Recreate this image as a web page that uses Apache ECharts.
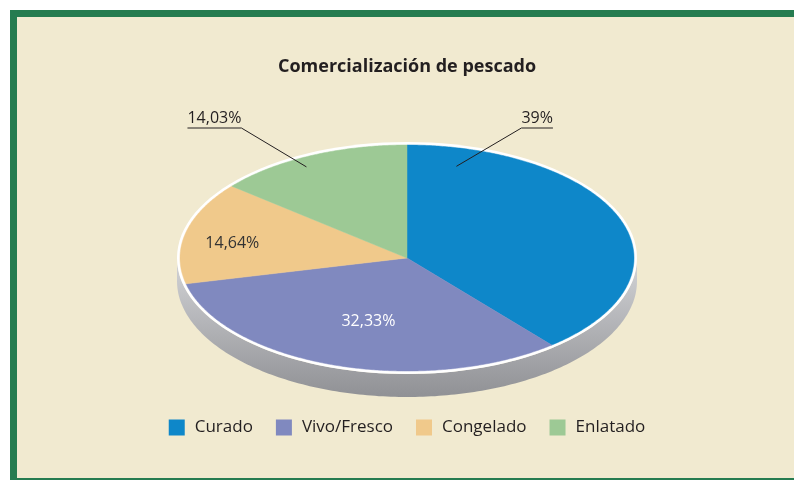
<!DOCTYPE html>
<html>
<head>
<meta charset="utf-8">
<title>Comercialización de pescado</title>
<script src="https://cdn.jsdelivr.net/npm/echarts@6/dist/echarts.min.js"></script>
<style>
  html, body { margin: 0; padding: 0; background: #fff; overflow: hidden; }
  #frame {
    position: absolute; left: 10px; top: 10px; width: 777px; height: 461px;
    background: #f1ead0;
    border-top: 7px solid #267c50; border-left: 7px solid #267c50; border-bottom: 2px solid #267c50;
  }
  #chart { position: absolute; left: 20px; top: 0; width: 774px; height: 480px; }
</style>
</head>
<body>
<div id="frame"></div>
<div id="chart"></div>
<script>
const categories = ['Curado', 'Vivo/Fresco', 'Congelado', 'Enlatado'];
const shares = [39, 32.33, 14.64, 14.03];
const shareLabels = ['39%', '32,33%', '14,64%', '14,03%'];
const colors = ['#0e87c9', '#8089bf', '#f0c98b', '#9dc995'];

const FONT = '"Open Sans", "Noto Sans", sans-serif';

// ellipse geometry of the "3d" pie
const RX = 227, RY = 113, BORDER = 3, DEPTH = 23, CY = 258;
// label placement: at = position inside slice (0..1), f = radius fraction
const labelPos = [
  { at: 0.107, f: 0.84, outside: true, dx: 65 },
  { at: 0.484, f: 0.59, color: '#fff' },
  { at: 0.43, f: 0.78, color: '#333' },
  { at: 0.43, f: 0.92, outside: true, dx: -65 },
];

const total = shares.reduce((a, b) => a + b, 0);

function startAngle(i) {
  let s = 0;
  for (let k = 0; k < i; k++) s += shares[k];
  return s / total * 360;
}

// t in degrees, clockwise from 12 o'clock
function pt(cx, t, rx, ry) {
  const r = t * Math.PI / 180;
  return [cx + rx * Math.sin(r), CY - ry * Math.cos(r)];
}

const measureCtx = document.createElement('canvas').getContext('2d');
function textWidth(s) {
  measureCtx.font = '16px ' + FONT;
  return measureCtx.measureText(s).width;
}

function renderBase(params, api) {
  const cx = api.getWidth() / 2;
  const orx = RX + BORDER, ory = RY + BORDER;
  const side = [];
  for (let t = 90; t <= 270; t += 1) side.push(pt(cx, t, orx, ory));
  for (let t = 270; t >= 90; t -= 1) {
    const q = pt(cx, t, orx, ory);
    side.push([q[0], q[1] + DEPTH]);
  }
  return {
    type: 'group',
    children: [
      {
        type: 'polygon',
        shape: { points: side },
        style: {
          fill: {
            type: 'linear', global: true, x: 0, y: CY, x2: 0, y2: CY + ory + DEPTH,
            colorStops: [{ offset: 0, color: '#d3d4d7' }, { offset: 1, color: '#909195' }],
          },
        },
      },
      { type: 'ellipse', shape: { cx: cx, cy: CY, rx: orx, ry: ory }, style: { fill: '#fff' } },
    ],
  };
}

function renderSlice(i) {
  return function (params, api) {
    const cx = api.getWidth() / 2;
    const a0 = startAngle(i);
    const a1 = a0 + api.value(0) / total * 360;
    const points = [[cx, CY]];
    for (let t = a0; t < a1; t += 0.5) points.push(pt(cx, t, RX, RY));
    points.push(pt(cx, a1, RX, RY));
    const children = [{
      type: 'polygon',
      shape: { points: points },
      style: { fill: colors[i], stroke: colors[i], lineWidth: 0.5 },
    }];
    const lp = labelPos[i];
    const ta = a0 + (a1 - a0) * lp.at;
    const p = pt(cx, ta, RX * lp.f, RY * lp.f);
    if (lp.outside) {
      const ex = p[0] + lp.dx, ey = CY - 130;
      const w = textWidth(shareLabels[i]);
      const endX = lp.dx > 0 ? ex + w : ex - w;
      children.push({
        type: 'polyline',
        shape: { points: [p, [ex, ey], [endX, ey]] },
        style: { stroke: '#231f20', lineWidth: 1, fill: null },
      });
      children.push({
        type: 'text',
        x: ex, y: ey - 2,
        style: {
          text: shareLabels[i], font: '16px ' + FONT, fill: '#231f20',
          align: lp.dx > 0 ? 'left' : 'right', verticalAlign: 'bottom',
        },
      });
    } else {
      children.push({
        type: 'text',
        x: p[0], y: p[1],
        style: {
          text: shareLabels[i], font: '16px ' + FONT, fill: lp.color,
          align: 'center', verticalAlign: 'middle',
        },
      });
    }
    return { type: 'group', children: children };
  };
}

const chart = echarts.init(document.getElementById('chart'));

const series = [{
  type: 'custom',
  name: 'base',
  coordinateSystem: 'none',
  z: 1,
  silent: true,
  renderItem: renderBase,
  data: [[0]],
}];
categories.forEach((name, i) => {
  series.push({
    type: 'custom',
    name: name,
    coordinateSystem: 'none',
    z: 2,
    itemStyle: { color: colors[i] },
    renderItem: renderSlice(i),
    data: [[shares[i]]],
  });
});

chart.setOption({
  animation: false,
  color: colors,
  title: {
    text: 'Comercialización de pescado',
    left: 'center',
    top: 58,
    padding: 0,
    textStyle: { fontFamily: FONT, fontSize: 18, fontWeight: 'bold', color: '#231f20' },
  },
  legend: {
    data: categories,
    left: 'center',
    top: 419,
    padding: 0,
    icon: 'rect',
    itemWidth: 16,
    itemHeight: 16,
    itemGap: 23,
    selectedMode: false,
    textStyle: { fontFamily: FONT, fontSize: 17, color: '#231f20', padding: [0, 0, 0, 5] },
  },
  series: series,
});
</script>
</body>
</html>
